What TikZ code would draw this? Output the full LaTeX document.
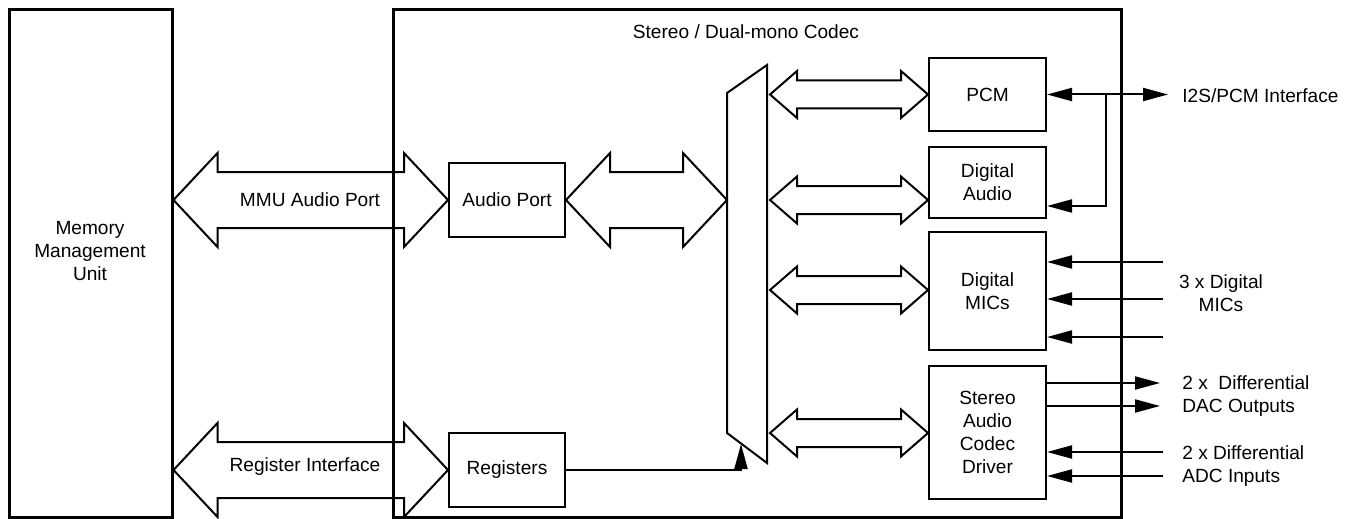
\documentclass[tikz,border=0pt]{standalone}
\usepackage{fontspec}
\setmainfont{Liberation Sans}
\usetikzlibrary{calc,arrows.meta}
\tikzset{
  outerbox/.style={draw, line width=1.5pt, inner sep=0pt},
  blk/.style={draw, line width=1pt, align=center, inner sep=0pt},
  bigarr/.style={draw, line width=1pt, line join=miter},
  sig/.style={line width=1pt, -{Triangle[length=12.5pt,width=6.5pt]}},
  sigboth/.style={line width=1pt, {Triangle[length=12.5pt,width=6.5pt]}-{Triangle[length=12.5pt,width=6.5pt]}},
  lbl/.style={inner sep=0pt, align=center},
}
% #1 start, #2 end, #3 head length, #4 head half-width, #5 shaft half-width
\newcommand\dblarr[5]{%
  \draw[bigarr] let \p1=(#1), \p2=(#2) in
    (\x1,\y1) -- (\x1+#3,\y1+#4) -- (\x1+#3,\y1+#5) -- (\x2-#3,\y1+#5)
    -- (\x2-#3,\y1+#4) -- (\x2,\y1) -- (\x2-#3,\y1-#4) -- (\x2-#3,\y1-#5)
    -- (\x1+#3,\y1-#5) -- (\x1+#3,\y1-#4) -- cycle;}
\begin{document}
\begin{tikzpicture}[x=0.5pt,y=-0.5pt,font=\fontsize{9.55}{11.5}\selectfont]
\useasboundingbox (0,0) rectangle (1354,519);

% outer boxes
\node[outerbox, minimum width=81.5pt, minimum height=253.5pt] (mmu) at (90.5,263.5) {};
\node[lbl] (mmutext) at (90,251) {Memory\\Management\\Unit};
\node[outerbox, minimum width=364pt, minimum height=253.5pt] (codec) at (757,263.5) {};
\node[lbl] (codectitle) at (746,32) {Stereo / Dual-mono Codec};

% inner blocks
\node[blk, minimum width=58pt, minimum height=37pt] (ap) at (507,200) {Audio Port};
\node[blk, minimum width=58pt, minimum height=37pt] (reg) at (507,470) {Registers};
\node[blk, minimum width=58.5pt, minimum height=36.5pt] (pcm) at (987.5,94.5) {PCM};
\node[blk, minimum width=58.5pt, minimum height=35.5pt] (da) at (987.5,182.5) {Digital\\Audio};
\node[blk, minimum width=58.5pt, minimum height=59pt] (mic) at (987.5,291) {Digital\\MICs};
\node[blk, minimum width=58.5pt, minimum height=66.5pt] (sacd) at (987.5,432.5) {Stereo\\Audio\\Codec\\Driver};

% mux
\draw[line width=1pt, line join=miter] (727,93) -- (767,65) -- (767,463) -- (727,433) -- cycle;
\coordinate (muxL) at (727,200);
\coordinate (muxB) at (741,444);
\coordinate (mr1) at (770,94.5);
\coordinate (mr2) at (770,200);
\coordinate (mr3) at (770,290);
\coordinate (mr4) at (770,433);

% big double arrows
\dblarr{mmu.east |- ap.west}{ap.west}{22pt}{23.5pt}{14pt}
\dblarr{mmu.east |- reg.west}{reg.west}{22pt}{23.5pt}{14pt}
\dblarr{ap.east}{muxL}{22pt}{23.5pt}{14pt}
\node[lbl] (mmuap) at (310,200) {MMU Audio Port};
\node[lbl] (regif) at (305,467) {Register Interface};

% small double arrows
\dblarr{mr1}{pcm.west}{13.5pt}{11.75pt}{7pt}
\dblarr{mr2}{da.west}{13.5pt}{11.75pt}{7pt}
\dblarr{mr3}{mic.west}{13.5pt}{11.75pt}{7pt}
\dblarr{mr4}{sacd.west}{13.5pt}{11.75pt}{7pt}

% registers to mux
\draw[sig] (reg.east) -| (muxB);

% I2S / PCM
\coordinate (i2send) at (1168,94.5);
\coordinate (j) at (1106,94.5);
\coordinate (jc) at (1106,206);
\draw[sigboth] (pcm.east) -- (i2send);
\draw[sig] (j) -- (jc) -- (jc -| da.east);
\node[lbl, anchor=west] (i2s) at (1182,96) {I2S/PCM Interface};

% mics
\coordinate (mi1) at (1163,262);
\coordinate (mi2) at (1163,299);
\coordinate (mi3) at (1163,337);
\draw[sig] (mi1) -- (mi1 -| mic.east);
\draw[sig] (mi2) -- (mi2 -| mic.east);
\draw[sig] (mi3) -- (mi3 -| mic.east);
\node[lbl] (micl) at (1221,293) {3 x Digital\\MICs};

% DAC outputs
\coordinate (do1) at (1160,383);
\coordinate (do2) at (1160,406);
\draw[sig] (sacd.east |- do1) -- (do1);
\draw[sig] (sacd.east |- do2) -- (do2);
\node[lbl, anchor=west, align=left] (dacl) at (1182,396.5) {2 x\ \ Differential\\DAC Outputs};

% ADC inputs
\coordinate (ai1) at (1163,452);
\coordinate (ai2) at (1163,476);
\draw[sig] (ai1) -- (ai1 -| sacd.east);
\draw[sig] (ai2) -- (ai2 -| sacd.east);
\node[lbl, anchor=west, align=left] (adcl) at (1182,466) {2 x Differential\\ADC Inputs};
\end{tikzpicture}
\end{document}
